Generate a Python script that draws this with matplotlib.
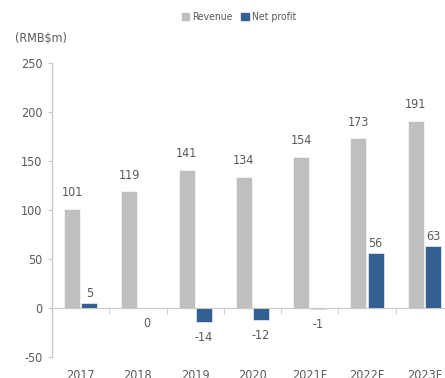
import matplotlib.pyplot as plt
from matplotlib.patches import Patch

years = ["2017", "2018", "2019", "2020", "2021F", "2022F", "2023F"]
revenue = [101, 119, 141, 134, 154, 173, 191]
net_profit = [5, 0, -14, -12, -1, 56, 63]

GREY = "#BFBFBF"
BLUE = "#335F91"
TEXT = "#595959"
FONT = ["DejaVu Sans Condensed", "Liberation Sans Narrow", "DejaVu Sans"]

plt.rcParams["font.family"] = FONT
plt.rcParams["font.stretch"] = "condensed"
plt.rcParams["axes.unicode_minus"] = False

fig = plt.figure(figsize=(4.45, 3.78), dpi=100)
ax = fig.add_axes([52 / 445, 21 / 378, 401 / 445, 294 / 378])

x = list(range(len(years)))
width = 0.28
off = 0.15
ax.bar([i - off for i in x], revenue, width, color=GREY, edgecolor="white", linewidth=0.4, zorder=2)
ax.bar([i + off for i in x], net_profit, width, color=BLUE, edgecolor="white", linewidth=0.4, zorder=2)

for i, v in enumerate(revenue):
    ax.annotate(str(v), (i - off, v), xytext=(0, 7), textcoords="offset points",
                ha="center", va="bottom", fontsize=9, color=TEXT)
for i, v in enumerate(net_profit):
    if v > 0:
        ax.annotate(str(v), (i + off, v), xytext=(0, 2), textcoords="offset points",
                    ha="center", va="bottom", fontsize=9, color=TEXT)
    else:
        ax.annotate(str(v), (i + off, v), xytext=(0, -6.5), textcoords="offset points",
                    ha="center", va="top", fontsize=9, color=TEXT)

ax.set_xlim(-0.5, len(years) - 0.5)
ax.set_ylim(-50, 250)
ax.set_yticks(range(-50, 251, 50))

for s in ["top", "right"]:
    ax.spines[s].set_visible(False)
ax.spines["left"].set_color("#C8C8C8")
ax.spines["bottom"].set_color("#C8C8C8")
ax.spines["bottom"].set_position(("data", 0))
ax.spines["left"].set_linewidth(1.0)

ax.tick_params(axis="y", length=3, color="#C8C8C8", labelcolor=TEXT, labelsize=9, pad=4)
ax.set_xticks(x)
ax.set_xticklabels(years)
ax.set_xticks([i - 0.5 for i in x], minor=True)
ax.tick_params(axis="x", which="major", length=0, labelcolor=TEXT, labelsize=9, pad=44)
ax.tick_params(axis="x", which="minor", length=4, color="#C8C8C8", direction="out")

fig.text(15 / 445, 1 - 38 / 378, "(RMB$m)", ha="left", va="center", fontsize=9, color=TEXT)

handles = [Patch(color=GREY, label="Revenue"), Patch(color=BLUE, label="Net profit")]
fig.legend(handles=handles, loc="center", bbox_to_anchor=(239 / 445, 1 - 17 / 378), ncol=2,
           frameon=False, fontsize=7.5, labelcolor=TEXT, handlelength=0.7, handleheight=0.7,
           handletextpad=0.3, columnspacing=0.8)

fig.savefig("out.png", dpi=100)
